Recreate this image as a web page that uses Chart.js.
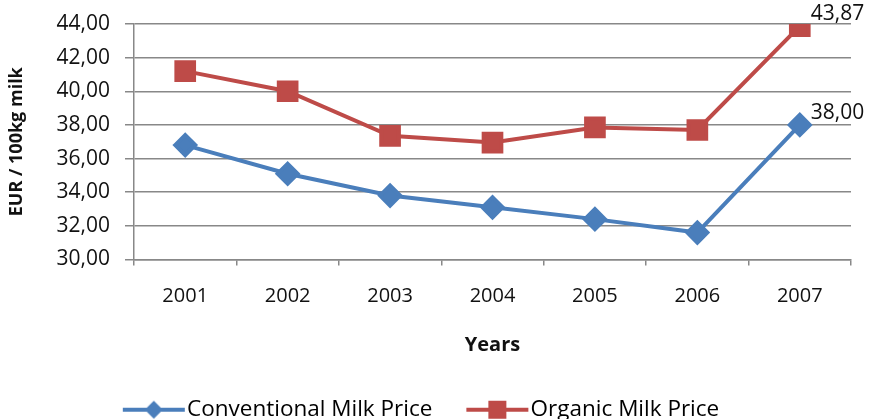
<!DOCTYPE html>
<html>
<head>
<meta charset="utf-8">
<script src="https://cdn.jsdelivr.net/npm/chart.js@4/dist/chart.umd.min.js"></script>
<style>
  html, body { margin: 0; padding: 0; background: #fff; }
  #wrap { width: 872px; height: 419px; }
</style>
</head>
<body>
<div id="wrap"><canvas id="c" width="872" height="419"></canvas></div>
<script>
const years = ['2001', '2002', '2003', '2004', '2005', '2006', '2007'];
const conventionalPrice = [36.8, 35.1, 33.8, 33.1, 32.4, 31.6, 38.00];
const organicPrice = [41.2, 40.0, 37.35, 36.95, 37.85, 37.7, 43.87];
const yTicks = [30, 32, 34, 36, 38, 40, 42, 44];

const FONT = '"Open Sans", Lato, sans-serif';
const BLUE = '#4A7EBB';
const RED = '#BE4B48';
const GRID = '#888888';
const INK = '#111111';

const fmt = v => v.toFixed(2).replace('.', ',');

// legend swatch: short line with the series marker in the middle
function legendSwatch(color, shape) {
  const cv = document.createElement('canvas');
  cv.width = 64; cv.height = 24;
  const g = cv.getContext('2d');
  g.strokeStyle = color; g.lineWidth = 4;
  g.beginPath(); g.moveTo(1, 12); g.lineTo(63, 12); g.stroke();
  g.fillStyle = color;
  g.beginPath();
  if (shape === 'diamond') {
    g.moveTo(32, 3); g.lineTo(41, 12); g.lineTo(32, 21); g.lineTo(23, 12);
  } else {
    g.rect(23, 3, 18, 18);
  }
  g.closePath(); g.fill();
  return cv;
}

// value labels on the final point of each series
const lastLabels = {
  id: 'lastLabels',
  afterDatasetsDraw(chart) {
    const ctx = chart.ctx;
    ctx.save();
    ctx.font = '21px ' + FONT;
    ctx.fillStyle = INK;
    ctx.textAlign = 'left';
    ctx.textBaseline = 'middle';
    chart.data.datasets.forEach((ds, i) => {
      const meta = chart.getDatasetMeta(i);
      const last = ds.data.length - 1;
      const pt = meta.data[last];
      ctx.fillText(fmt(ds.data[last]), pt.x + 11, pt.y - 12);
    });
    ctx.restore();
  }
};

new Chart(document.getElementById('c'), {
  type: 'line',
  data: {
    labels: years,
    datasets: [
      {
        label: 'Conventional Milk Price',
        data: conventionalPrice,
        borderColor: BLUE,
        backgroundColor: BLUE,
        borderWidth: 4,
        pointStyle: 'rectRot',
        pointRadius: 10,
        pointHoverRadius: 10,
        tension: 0
      },
      {
        label: 'Organic Milk Price',
        data: organicPrice,
        borderColor: RED,
        backgroundColor: RED,
        borderWidth: 4,
        pointStyle: 'rect',
        pointRadius: 12.5,
        pointHoverRadius: 12.5,
        tension: 0
      }
    ]
  },
  options: {
    responsive: false,
    animation: false,
    layout: { padding: { left: 0, right: 21, top: 24, bottom: -12 } },
    plugins: {
      tooltip: { enabled: false },
      legend: {
        position: 'bottom',
        labels: {
          usePointStyle: true,
          pointStyleWidth: 44,
          font: { family: FONT, size: 22.5 },
          color: INK,
          padding: 43,
          generateLabels(chart) {
            return chart.data.datasets.map((ds, i) => ({
              text: ds.label,
              pointStyle: legendSwatch(ds.borderColor, i === 0 ? 'diamond' : 'square'),
              fillStyle: ds.borderColor,
              strokeStyle: ds.borderColor,
              lineWidth: 0,
              datasetIndex: i,
              hidden: false
            }));
          }
        }
      }
    },
    scales: {
      x: {
        offset: true,
        afterFit(scale) { scale.height = 96; },
        grid: {
          offset: true,
          drawOnChartArea: false,
          drawTicks: true,
          tickLength: 6,
          color: GRID,
          lineWidth: 1.5
        },
        border: { color: GRID, width: 1.5 },
        ticks: { font: { family: FONT, size: 20 }, color: INK, padding: 19, maxRotation: 0 },
        title: {
          display: true,
          text: 'Years',
          font: { family: FONT, size: 20, weight: 'bold' },
          color: INK,
          padding: { top: 7, bottom: -2 }
        }
      },
      y: {
        min: 30,
        max: 44,
        afterFit(scale) {
          scale.width = 134;
          scale.paddingTop = 0;
          scale.paddingBottom = 0;
        },
        afterBuildTicks(scale) { scale.ticks = yTicks.map(v => ({ value: v })); },
        grid: { color: GRID, lineWidth: 1.5, tickLength: 9 },
        border: { color: GRID, width: 1.5 },
        ticks: {
          font: { family: FONT, size: 21 },
          color: INK,
          padding: 15,
          callback: v => fmt(v)
        },
        title: {
          display: true,
          text: 'EUR / 100kg milk',
          font: { family: FONT, size: 18, weight: 'bold' },
          color: INK,
          padding: { top: 6, bottom: 0 }
        }
      }
    }
  },
  plugins: [lastLabels]
});
</script>
</body>
</html>
